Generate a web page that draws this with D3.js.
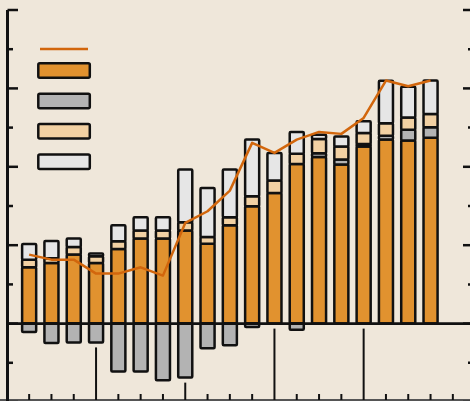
<!DOCTYPE html>
<html>
<head>
<meta charset="utf-8">
<script src="https://cdn.jsdelivr.net/npm/d3@7"></script>
<style>
  html, body { margin: 0; padding: 0; background: #EFE7DA; }
  svg { display: block; }
</style>
</head>
<body>
<svg id="chart" width="470" height="401"></svg>
<script>
// Quarterly contributions (percentage points) and the resulting total
const quarters = [
  "2015Q1","2015Q2","2015Q3","2015Q4",
  "2016Q1","2016Q2","2016Q3","2016Q4",
  "2017Q1","2017Q2","2017Q3","2017Q4",
  "2018Q1","2018Q2","2018Q3","2018Q4",
  "2019Q1","2019Q2","2019Q3","2019Q4"
];
const coreValues   = [7.18, 7.72, 8.80, 7.74, 9.53, 10.84, 10.84, 11.86, 10.17, 12.54, 14.97, 16.67, 20.37, 21.26, 20.28, 22.60, 23.47, 23.34, 23.69];
const secondValues = [-1.06, -2.46, -2.40, -2.40, -6.12, -6.12, -7.23, -6.89, -3.15, -2.76, -0.42, 0, -0.77, 0.46, 0.64, 0.30, 0.50, 1.40, 1.35];
const thirdValues  = [0.98, 0.60, 0.98, 0.84, 0.97, 1.02, 1.02, 1.06, 0.89, 1.02, 1.27, 1.57, 1.31, 1.84, 1.66, 1.40, 1.60, 1.56, 1.71];
const fourthValues = [2.00, 2.23, 1.06, 0.35, 2.04, 1.70, 1.70, 6.72, 6.25, 6.08, 7.23, 3.53, 2.77, 0.54, 1.27, 1.50, 5.40, 3.90, 4.25];
const totalValues  = [8.80, 8.16, 8.16, 6.38, 6.38, 7.18, 6.12, 12.84, 14.33, 16.96, 23.05, 21.77, 23.47, 24.45, 24.20, 26.23, 31.00, 30.27, 31.00];
const yTicks = [-10, -5, 0, 5, 10, 15, 20, 25, 30, 35, 40];

const seriesKeys = ["core", "second", "third", "fourth"];
const colors = { core: "#E1922F", second: "#B3B3B3", third: "#F2D1A3", fourth: "#E6E6E6" };
const lineColor = "#D2660C";

const rows = coreValues.map((v, i) => ({
  quarter: quarters[i],
  core: v, second: secondValues[i], third: thirdValues[i], fourth: fourthValues[i]
}));

const svg = d3.select("#chart");
const W = 470, H = 401;

const x = d3.scaleBand().domain(quarters).range([18, 464]).paddingInner(0.37).paddingOuter(0.185);
const y = d3.scaleLinear().domain([-10, 40]).range([402, 10]);

const stack = d3.stack().keys(seriesKeys).offset(d3.stackOffsetDiverging);
const layers = stack(rows);

// Bottom axis line with quarter ticks; every fourth quarter gets a taller tick
const axisY = 400;
svg.append("line").attr("x1", 0).attr("x2", W).attr("y1", axisY).attr("y2", axisY)
  .attr("stroke", "#555").attr("stroke-width", 2);

const lowest = quarters.map((q, i) => i < rows.length ? Math.min(0, secondValues[i]) : 0);
svg.append("g").selectAll("line").data(quarters).join("line")
  .attr("x1", d => x(d) + x.bandwidth() / 2)
  .attr("x2", d => x(d) + x.bandwidth() / 2)
  .attr("y1", axisY)
  .attr("y2", (d, i) => (i % 4 === 3 && i < rows.length) ? y(lowest[i]) + 5 : axisY - 6)
  .attr("stroke", "#111").attr("stroke-width", 2);

// Stacked bars
svg.append("g").selectAll("g").data(layers).join("g")
  .attr("fill", d => colors[d.key])
  .selectAll("rect").data(d => d.filter(s => Math.abs(s[1] - s[0]) > 1e-9)).join("rect")
  .attr("x", d => x(d.data.quarter))
  .attr("width", x.bandwidth())
  .attr("y", d => y(Math.max(d[0], d[1])))
  .attr("height", d => Math.abs(y(d[0]) - y(d[1])))
  .attr("rx", 1)
  .attr("stroke", "#111").attr("stroke-width", 2.5).attr("stroke-linejoin", "round");

// Zero line
svg.append("line").attr("x1", 8).attr("x2", W).attr("y1", y(0)).attr("y2", y(0))
  .attr("stroke", "#111").attr("stroke-width", 2.8);

// Left axis
const leftX = 7.5;
svg.append("line").attr("x1", leftX).attr("x2", leftX).attr("y1", y(40)).attr("y2", H)
  .attr("stroke", "#111").attr("stroke-width", 3);
svg.append("g").selectAll("line").data(yTicks).join("line")
  .attr("x1", leftX).attr("x2", d => leftX + (d % 10 === 0 ? 10.5 : 5.5))
  .attr("y1", d => y(d)).attr("y2", d => y(d))
  .attr("stroke", "#111").attr("stroke-width", 2.5);

// Right axis ticks
const rightX = 473;
svg.append("g").selectAll("line").data(yTicks).join("line")
  .attr("x1", rightX).attr("x2", d => rightX - (d % 10 === 0 ? 10 : 5))
  .attr("y1", d => y(d)).attr("y2", d => y(d))
  .attr("stroke", "#111").attr("stroke-width", 2.5);

// Total line
const line = d3.line()
  .x((d, i) => x(quarters[i]) + x.bandwidth() / 2)
  .y(d => y(d));
svg.append("path").datum(totalValues)
  .attr("d", line)
  .attr("fill", "none").attr("stroke", lineColor).attr("stroke-width", 2.5)
  .attr("stroke-linejoin", "round");

// Legend
const legend = svg.append("g");
legend.append("line").attr("x1", 40).attr("x2", 88).attr("y1", 49).attr("y2", 49)
  .attr("stroke", lineColor).attr("stroke-width", 2.5);
legend.selectAll("rect").data(seriesKeys).join("rect")
  .attr("x", 38.3).attr("width", 51.5)
  .attr("y", (d, i) => 63.3 + i * 30.4).attr("height", 14.5)
  .attr("rx", 1.5)
  .attr("fill", d => colors[d])
  .attr("stroke", "#111").attr("stroke-width", 2.5);
</script>
</body>
</html>
